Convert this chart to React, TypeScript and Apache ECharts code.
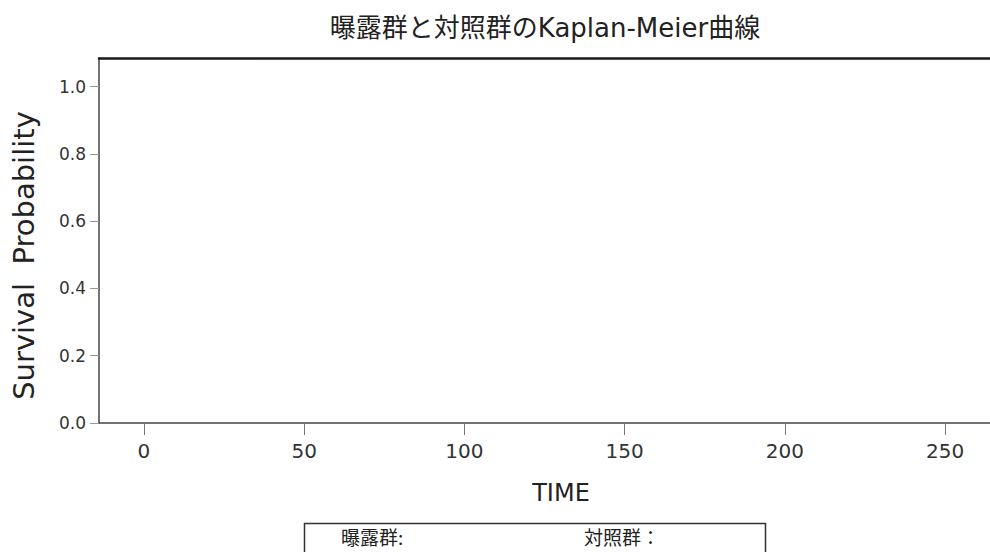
import React, { useEffect, useRef } from "react";
import * as echarts from "echarts";

const TITLE = "曝露群と対照群のKaplan-Meier曲線";
const X_NAME = "TIME";
const Y_NAME = "Survival  Probability";
const X_TICKS = [0, 50, 100, 150, 200, 250];
const Y_TICKS = [0, 0.2, 0.4, 0.6, 0.8, 1.0];
const X_RANGE = [-14, 264];
const Y_RANGE = [0, 1.085];
const SERIES_NAMES = ["曝露群", "対照群"];
const LEGEND_LABELS = ["曝露群:", "対照群："];
const exposedCurve: [number, number][] = [];
const controlCurve: [number, number][] = [];

const LATIN = "DejaVu Sans, Verdana, sans-serif";
const MIXED = "DejaVu Sans, Noto Sans CJK JP, sans-serif";
const CJK = "Noto Sans CJK JP, sans-serif";

export default function App() {
  const ref = useRef<HTMLDivElement>(null);
  useEffect(() => {
    if (!ref.current) return;
    const chart = echarts.init(ref.current, null, { renderer: "svg" });
    chart.setOption({
      animation: false,
      backgroundColor: "#ffffff",
      title: {
        text: TITLE,
        left: 540,
        textAlign: "center",
        top: 10,
        textStyle: { fontFamily: MIXED, fontSize: 26, fontWeight: "normal", color: "#222" },
      },
      grid: { left: 99, right: 0, top: 58, bottom: 129 },
      xAxis: [
        {
          type: "value",
          min: X_RANGE[0],
          max: X_RANGE[1],
          position: "bottom",
          name: X_NAME,
          nameLocation: "middle",
          nameGap: 58,
          nameTextStyle: { fontFamily: LATIN, fontSize: 24, color: "#222", padding: [0, 0, 0, 33] },
          axisLine: { show: true, onZero: false, lineStyle: { color: "#444", width: 1.5 } },
          axisTick: { show: true, length: 12, customValues: X_TICKS, lineStyle: { color: "#777", width: 1 } },
          axisLabel: {
            customValues: X_TICKS,
            margin: 18,
            fontFamily: LATIN,
            fontSize: 20,
            color: "#333",
          },
          splitLine: { show: false },
        },
        {
          type: "value",
          min: X_RANGE[0],
          max: X_RANGE[1],
          position: "top",
          axisLine: { show: true, onZero: false, lineStyle: { color: "#1a1a1a", width: 2.5 } },
          axisTick: { show: false },
          axisLabel: { show: false },
          splitLine: { show: false },
        },
      ],
      yAxis: {
        type: "value",
        min: Y_RANGE[0],
        max: Y_RANGE[1],
        name: Y_NAME,
        nameLocation: "middle",
        nameGap: 61,
        nameTextStyle: { fontFamily: LATIN, fontSize: 29, color: "#222", padding: [0, 30, 0, 0] },
        axisLine: { show: true, onZero: false, lineStyle: { color: "#444", width: 1.5 } },
        axisTick: { show: true, length: 9, customValues: Y_TICKS, lineStyle: { color: "#999", width: 1 } },
        axisLabel: {
          customValues: Y_TICKS,
          margin: 13,
          fontFamily: LATIN,
          fontSize: 17,
          color: "#333",
          formatter: (v: number) => v.toFixed(1),
        },
        splitLine: { show: false },
      },
      series: [
        { name: SERIES_NAMES[0], type: "line", step: "end", showSymbol: false, data: exposedCurve },
        { name: SERIES_NAMES[1], type: "line", step: "end", showSymbol: false, data: controlCurve },
      ],
      graphic: [
        {
          type: "rect",
          left: 302,
          top: 521,
          shape: { width: 461, height: 60 },
          style: { fill: "none", stroke: "#333", lineWidth: 1.5 },
        },
        {
          type: "text",
          left: 341,
          top: 527,
          style: { text: LEGEND_LABELS[0], fontFamily: CJK, fontSize: 19, fill: "#222" },
        },
        {
          type: "text",
          left: 584,
          top: 527,
          style: { text: LEGEND_LABELS[1], fontFamily: CJK, fontSize: 19, fill: "#222" },
        },
      ],
    });
    return () => chart.dispose();
  }, []);
  return (
    <div
      ref={ref}
      style={{ position: "fixed", left: 0, top: 0, width: 990, height: 552, background: "#fff" }}
    />
  );
}
